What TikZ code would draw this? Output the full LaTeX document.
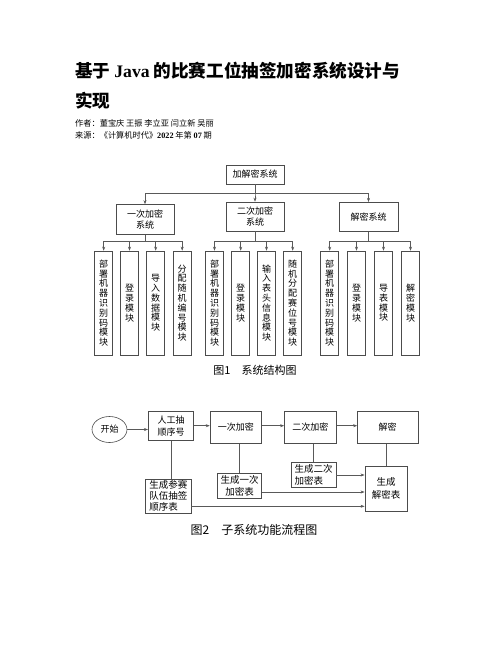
\documentclass[tikz,border=0pt]{standalone}
\usepackage{fontspec}
\setmainfont{Liberation Serif}
\newfontfamily\cjk{Noto Sans CJK SC}
\usetikzlibrary{arrows.meta, shapes.geometric}

\tikzset{
    blk/.style={draw=black!70, line width=0.6pt, align=center, inner sep=0pt,
        font=\cjk\fontsize{9}{11}\selectfont},
    leaf/.style={blk, minimum width=18pt, minimum height=104pt,
        font=\cjk\fontsize{9}{9.8}\selectfont},
    lnk/.style={draw=black!65, line width=0.5pt},
    arr/.style={lnk, -{Stealth[length=4pt, width=3pt]}},
    txt/.style={inner sep=0pt, anchor=base west}
}

\begin{document}
\begin{tikzpicture}[x=1pt, y=-1pt]
    \fill[white] (0,0) rectangle (502,649);
    \useasboundingbox (0,0) rectangle (502,649);

    \node[txt, font=\cjk\bfseries\fontsize{17.6}{17.6}\selectfont] (title) at (75,77.3) {基于 {\rmfamily Java} 的比赛工位抽签加密系统设计与};
    \node[txt, font=\cjk\bfseries\fontsize{17.6}{17.6}\selectfont] (title2) at (75,107.3) {实现};
    \node[txt, font=\cjk\fontsize{8.2}{8.2}\selectfont] (author) at (75,126) {作者：董宝庆 王振 李立亚 闫立新 吴丽};
    \node[txt, font=\cjk\fontsize{8.2}{8.2}\selectfont] (source) at (75,138) {来源：《计算机时代》{\rmfamily\bfseries 2022} 年第 {\rmfamily\bfseries 07} 期};

    \node[blk, minimum width=58pt, minimum height=19pt] (root) at (255,174.5) {加解密系统};
    \node[blk, minimum width=58pt, minimum height=30pt] (s1) at (145,219.5) {一次加密\\系统};
    \node[blk, minimum width=58pt, minimum height=29pt] (s2) at (255,216.5) {二次加密\\系统};
    \node[blk, minimum width=59pt, minimum height=29.5pt] (s3) at (368.5,217) {解密系统};
    \foreach \s in {s1,s2,s3}
        \draw[arr] (root.south) -- ++(0,8.5) -| (\s.north);

    \foreach \x/\t [count=\i] in {103.7/{部\\署\\机\\器\\识\\别\\码\\模\\块}, 129.5/{登\\录\\模\\块},
            155.7/{导\\入\\数\\据\\模\\块}, 182.2/{分\\配\\随\\机\\编\\号\\模\\块}} {
        \node[leaf] (a\i) at (\x,303) {\t};
        \draw[arr] (s1.south) -- ++(0,6) -| (a\i.north);
    }
    \foreach \x/\t [count=\i] in {214.5/{部\\署\\机\\器\\识\\别\\码\\模\\块}, 240.7/{登\\录\\模\\块},
            266.5/{输\\入\\表\\头\\信\\息\\模\\块}, 292.7/{随\\机\\分\\配\\赛\\位\\号\\模\\块}} {
        \node[leaf] (b\i) at (\x,303) {\t};
        \draw[arr] (s2.south) -- ++(0,9.5) -| (b\i.north);
    }
    \foreach \x/\t [count=\i] in {329.7/{部\\署\\机\\器\\识\\别\\码\\模\\块}, 356.5/{登\\录\\模\\块},
            383.5/{导\\表\\模\\块}, 410.5/{解\\密\\模\\块}} {
        \node[leaf] (c\i) at (\x,303) {\t};
        \draw[arr] (s3.south) -- ++(0,8.75) -| (c\i.north);
    }
    \node[font=\cjk\fontsize{11}{11}\selectfont] (cap1) at (255,370) {图1\quad 系统结构图};

    \node[blk, ellipse, minimum width=35pt, minimum height=26pt] (start) at (109.5,429.5) {开始};
    \node[blk, minimum width=45.5pt, minimum height=29.5pt, font=\cjk\fontsize{9}{12}\selectfont] (p1) at (171,425.7) {人工抽\\顺序号};
    \node[blk, minimum width=51.5pt, minimum height=32pt] (p2) at (235.8,427.2) {一次加密};
    \node[blk, minimum width=52pt, minimum height=32pt] (p3) at (310.4,427.2) {二次加密};
    \node[blk, minimum width=60.5pt, minimum height=32pt] (p4) at (387.7,427.2) {解密};
    \node[blk, align=left, minimum width=45.3pt, minimum height=34.5pt, font=\cjk\fontsize{9.5}{11}\selectfont] (q1) at (168.3,496.3) {生成参赛\\队伍抽签\\顺序表};
    \node[blk, minimum width=44.4pt, minimum height=25.4pt, font=\cjk\fontsize{9.5}{12}\selectfont] (q2) at (239.5,486) {生成一次\\加密表};
    \node[blk, align=left, minimum width=45pt, minimum height=25.4pt, font=\cjk\fontsize{9.5}{12}\selectfont] (q3) at (313.5,475) {生成二次\\加密表};
    \node[blk, minimum width=42.7pt, minimum height=45pt, font=\cjk\fontsize{9.5}{13}\selectfont] (q4) at (386.2,488.5) {生成\\解密表};

    \draw[arr] (start.east) -- (start.east -| p1.west);
    \draw[arr] (p1.east) -- (p1.east -| p2.west);
    \draw[arr] (p2.east |- p1.east) -- (p3.west |- p1.east);
    \draw[arr] (p3.east |- p1.east) -- (p4.west |- p1.east);
    \draw[lnk] (p1.south) -- (p1.south |- q1.north);
    \draw[lnk] (q2.north) -- (q2.north |- p2.south);
    \draw[lnk] (q3.north) -- (q3.north |- p3.south);
    \draw[lnk] (q4.north) -- (q4.north |- p4.south);
    \draw[arr] (q3.east) -- (q3.east -| q4.west);
    \draw[arr] ([yshift=-6pt]q2.east) -- ([yshift=-6pt]q2.east -| q4.west);
    \draw[arr] ([yshift=-10pt]q1.east) -- ([yshift=-10pt]q1.east -| q4.west);
    \node[font=\cjk\fontsize{12}{12}\selectfont] (cap2) at (254,529.5) {图2\quad 子系统功能流程图};
\end{tikzpicture}
\end{document}
